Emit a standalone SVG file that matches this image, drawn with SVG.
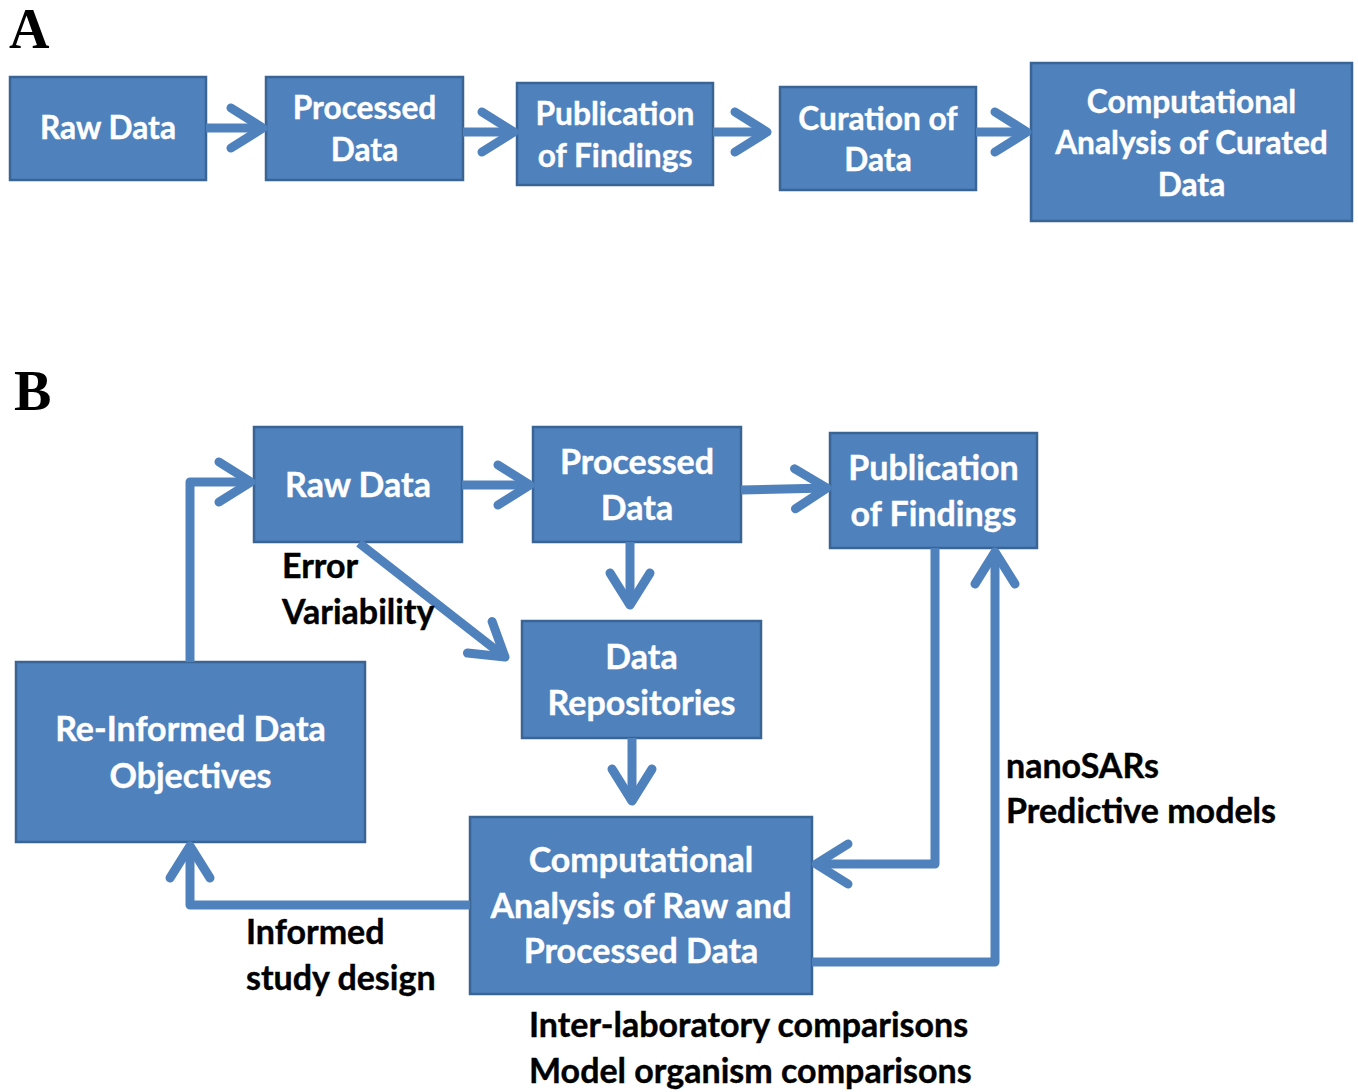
<svg xmlns="http://www.w3.org/2000/svg" width="1358" height="1092" viewBox="0 0 1358 1092">
  <style>
    .box { fill: #4F81BD; stroke: #3A6494; stroke-width: 2.5; }
    .bt { font-family: Lato, "Open Sans", "Liberation Sans", sans-serif; font-weight: bold; fill: #FFFFFF; text-anchor: middle; stroke: #FFFFFF; stroke-width: 0.4; }
    .a { font-size: 31.7px; }
    .b { font-size: 34px; }
    .lbl { font-family: Lato, "Open Sans", "Liberation Sans", sans-serif; font-weight: bold; font-size: 34px; fill: #000000; stroke: #000000; stroke-width: 0.4; }
    .panel { font-family: "Liberation Serif", "Times New Roman", serif; font-weight: bold; font-size: 56px; fill: #000000; }
    .conn { fill: none; stroke: #4F81BD; stroke-width: 9; stroke-linejoin: round; }
  </style>
  <defs>
    <marker id="chev" markerUnits="userSpaceOnUse" viewBox="-40 -28 48 56" refX="0" refY="0" markerWidth="48" markerHeight="56" orient="auto" overflow="visible">
      <path d="M-32,-20 L0,0 L-32,20" fill="none" stroke="#4F81BD" stroke-width="9" stroke-linecap="round" stroke-linejoin="round"/>
    </marker>
  </defs>
  <rect width="1358" height="1092" fill="#FFFFFF"/>

  <!-- panel letters -->
  <text class="panel" x="9" y="48">A</text>
  <text class="panel" x="14" y="410">B</text>

  <!-- panel A: linear workflow -->
  <g id="a-raw">
    <rect class="box" x="10" y="77" width="196" height="103"/>
    <text class="bt a" x="108" y="139">Raw Data</text>
  </g>
  <g id="a-processed">
    <rect class="box" x="266" y="77" width="197" height="103"/>
    <text class="bt a" x="364.5" y="119">Processed</text>
    <text class="bt a" x="364.5" y="161">Data</text>
  </g>
  <g id="a-publication">
    <rect class="box" x="517" y="83" width="196" height="102"/>
    <text class="bt a" x="615" y="125">Publication</text>
    <text class="bt a" x="615" y="167">of Findings</text>
  </g>
  <g id="a-curation">
    <rect class="box" x="780" y="87" width="196" height="103"/>
    <text class="bt a" x="878" y="130">Curation of</text>
    <text class="bt a" x="878" y="171">Data</text>
  </g>
  <g id="a-computational">
    <rect class="box" x="1031" y="63" width="321" height="158"/>
    <text class="bt a" x="1191.5" y="113">Computational</text>
    <text class="bt a" x="1191.5" y="154">Analysis of Curated</text>
    <text class="bt a" x="1191.5" y="196">Data</text>
  </g>

  <!-- panel B: feedback workflow -->
  <g id="b-raw">
    <rect class="box" x="254" y="427" width="208" height="115"/>
    <text class="bt b" x="358" y="497">Raw Data</text>
  </g>
  <g id="b-processed">
    <rect class="box" x="533" y="427" width="208" height="115"/>
    <text class="bt b" x="637" y="474">Processed</text>
    <text class="bt b" x="637" y="520">Data</text>
  </g>
  <g id="b-publication">
    <rect class="box" x="830" y="433" width="207" height="115"/>
    <text class="bt b" x="933.5" y="480">Publication</text>
    <text class="bt b" x="933.5" y="526">of Findings</text>
  </g>
  <g id="b-repositories">
    <rect class="box" x="522" y="621" width="239" height="117"/>
    <text class="bt b" x="641.5" y="669">Data</text>
    <text class="bt b" x="641.5" y="715">Repositories</text>
  </g>
  <g id="b-reinformed">
    <rect class="box" x="16" y="662" width="349" height="180"/>
    <text class="bt b" x="190.5" y="741">Re-Informed Data</text>
    <text class="bt b" x="190.5" y="788">Objectives</text>
  </g>
  <g id="b-computational">
    <rect class="box" x="470" y="817" width="342" height="177"/>
    <text class="bt b" x="641" y="872">Computational</text>
    <text class="bt b" x="641" y="918">Analysis of Raw and</text>
    <text class="bt b" x="641" y="963">Processed Data</text>
  </g>

  <!-- connectors -->
  <g id="connectors">
    <line class="conn" x1="206" y1="128" x2="263" y2="128" marker-end="url(#chev)"/>
    <line class="conn" x1="463" y1="132" x2="514" y2="132" marker-end="url(#chev)"/>
    <line class="conn" x1="713" y1="132" x2="767" y2="132" marker-end="url(#chev)"/>
    <line class="conn" x1="976" y1="132" x2="1027" y2="132" marker-end="url(#chev)"/>

    <line class="conn" x1="462" y1="485" x2="530" y2="485" marker-end="url(#chev)"/>
    <line class="conn" x1="741" y1="490" x2="827" y2="488" marker-end="url(#chev)"/>
    <line class="conn" x1="630" y1="542" x2="630" y2="605" marker-end="url(#chev)"/>
    <line class="conn" x1="359" y1="543" x2="505" y2="657" marker-end="url(#chev)"/>
    <line class="conn" x1="632" y1="738" x2="632" y2="801" marker-end="url(#chev)"/>
    <path class="conn" d="M190,662 V482 H251" marker-end="url(#chev)"/>
    <path class="conn" d="M470,905 H190 V846" marker-end="url(#chev)"/>
    <path class="conn" d="M935,548 V864 H816" marker-end="url(#chev)"/>
    <path class="conn" d="M812,962 H995 V552" marker-end="url(#chev)"/>
  </g>

  <!-- connector labels -->
  <text class="lbl" x="282" y="578">Error</text>
  <text class="lbl" x="282" y="624">Variability</text>
  <text class="lbl" x="1006" y="778">nanoSARs</text>
  <text class="lbl" x="1006" y="823">Predictive models</text>
  <text class="lbl" x="246" y="944">Informed</text>
  <text class="lbl" x="246" y="990">study design</text>
  <text class="lbl" x="529" y="1037">Inter-laboratory comparisons</text>
  <text class="lbl" x="529" y="1083">Model organism comparisons</text>
</svg>
